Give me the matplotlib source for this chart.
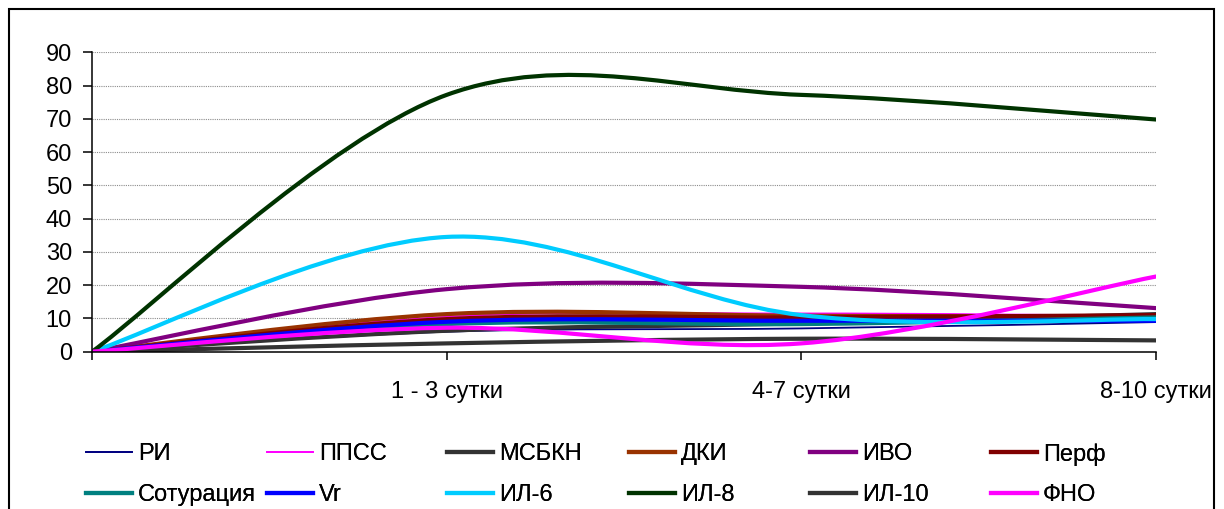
import matplotlib
matplotlib.use("Agg")
import matplotlib.pyplot as plt
from matplotlib.path import Path
from matplotlib.patches import PathPatch, Rectangle
from matplotlib.lines import Line2D

plt.rcParams['font.family'] = ['Liberation Sans', 'DejaVu Sans']

# categories on the x axis
categories = ['', '1 - 3 сутки', '4-7 сутки', '8-10 сутки']

# series values (one per category)
ri = [0, 6.0, 7.0, 8.9]
ppss = [0, 10.5, 11.5, 10.8]
msbkn = [0, 6.3, 8.5, 11.3]
dki = [0, 11.3, 10.8, 10.5]
ivo = [0, 18.8, 19.5, 13.1]
perf = [0, 9.8, 10.3, 11.0]
saturation = [0, 8.3, 8.3, 10.3]
vr = [0, 9.0, 9.3, 9.3]
il6 = [0, 34.5, 11.0, 9.8]
il8 = [0, 77.2, 77.2, 69.8]
il10 = [0, 2.5, 3.9, 3.4]
fno = [0, 7.2, 2.5, 22.6]

series = [
    ('РИ', ri, '#000080', 1.3),
    ('ППСС', ppss, '#FF00FF', 1.3),
    ('МСБКН', msbkn, '#333333', 3),
    ('ДКИ', dki, '#993300', 3),
    ('ИВО', ivo, '#800080', 3),
    ('Перф', perf, '#800000', 3),
    ('Сотурация', saturation, '#008080', 3),
    ('Vr', vr, '#0000FF', 3),
    ('ИЛ-6', il6, '#00CCFF', 3),
    ('ИЛ-8', il8, '#003300', 3),
    ('ИЛ-10', il10, '#333333', 3),
    ('ФНО', fno, '#FF00FF', 3),
]


def smooth_path(xs, ys):
    # Excel-like smoothed line: cubic Bezier segments through the data points
    pts = list(zip(xs, ys))
    n = len(pts)
    verts = [pts[0]]
    codes = [Path.MOVETO]
    for i in range(n - 1):
        p0 = pts[i - 1] if i > 0 else pts[i]
        p1 = pts[i]
        p2 = pts[i + 1]
        p3 = pts[i + 2] if i + 2 < n else pts[i + 1]
        c1 = (p1[0] + (p2[0] - p0[0]) / 6, p1[1] + (p2[1] - p0[1]) / 6)
        c2 = (p2[0] - (p3[0] - p1[0]) / 6, p2[1] - (p3[1] - p1[1]) / 6)
        verts += [c1, c2, p2]
        codes += [Path.CURVE4] * 3
    return Path(verts, codes)


fig = plt.figure(figsize=(12.24, 5.09), dpi=100)
ax = fig.add_axes([92 / 1224, 157.3 / 509, (1156 - 92) / 1224, 299.4 / 509])

x = list(range(len(categories)))
handles = {}
for name, vals, color, lw in series:
    patch = PathPatch(smooth_path(x, vals), fill=False, edgecolor=color,
                      linewidth=lw, capstyle='round', joinstyle='round')
    ax.add_patch(patch)
    handles[name] = Line2D([], [], color=color, linewidth=lw)

ax.set_xlim(0, 3)
ax.set_ylim(0, 90)
ax.set_yticks(range(0, 91, 10))
ax.set_xticks(x)
ax.set_xticklabels(categories)
ax.yaxis.grid(True, linestyle=(0, (1, 1)), linewidth=0.8, color='#8c8c8c')
ax.set_axisbelow(True)
ax.spines['top'].set_visible(False)
ax.spines['right'].set_visible(False)
ax.spines['left'].set_linewidth(1.1)
ax.spines['bottom'].set_linewidth(1.1)
ax.tick_params(axis='y', direction='out', length=6.5, width=1.1, pad=8, labelsize=17)
ax.tick_params(axis='x', direction='out', length=5.8, width=1.1, pad=15, labelsize=17)

# legend: 6 uniform columns, 2 rows
rows = [['РИ', 'ППСС', 'МСБКН', 'ДКИ', 'ИВО', 'Перф'],
        ['Сотурация', 'Vr', 'ИЛ-6', 'ИЛ-8', 'ИЛ-10', 'ФНО']]
col_x = [89, 270, 450, 632, 813, 994]
for j, cx in enumerate(col_x):
    names = [rows[0][j], rows[1][j]]
    leg = fig.legend([handles[n] for n in names], names, loc='upper left',
                     bbox_to_anchor=((cx - 3) / 1224, 1 - 443 / 509),
                     frameon=False, fontsize=17, handlelength=1.95,
                     handletextpad=0.25, labelspacing=0.8, borderpad=0,
                     borderaxespad=0)
    fig.add_artist(leg)

# chart area border
fig.patches.append(Rectangle((9 / 1224, -0.05), (1214 - 9) / 1224, (500 / 509) + 0.05,
                             transform=fig.transFigure, fill=False,
                             edgecolor='black', linewidth=1.5))

fig.savefig('out.png', dpi=100)
